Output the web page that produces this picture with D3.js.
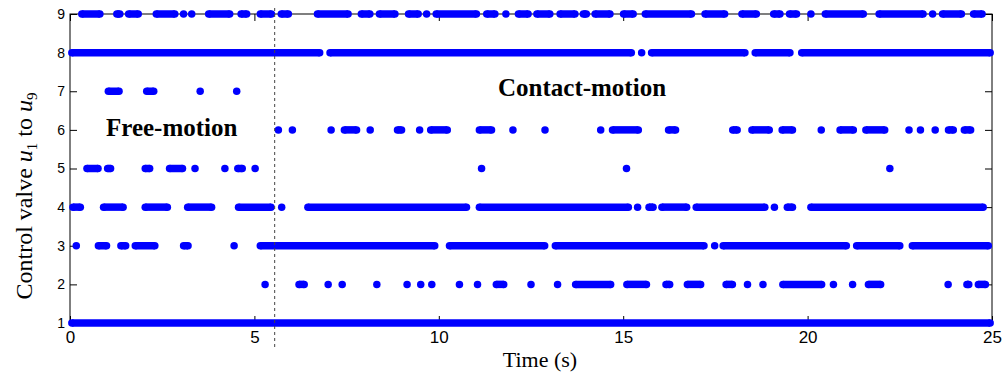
<!DOCTYPE html>
<html>
<head>
<meta charset="utf-8">
<script src="https://cdn.jsdelivr.net/npm/d3@7"></script>
<style>
  body { margin: 0; background: #fff; }
  svg { display: block; }
</style>
</head>
<body>
<div id="chart"></div>
<script>
// runs of "on" samples per valve, [start, end] in seconds (single dot when start == end)
const valve1 = [[0.05, 24.95]];
const valve2 = [[5.29, 5.29], [6.21, 6.35], [7.00, 7.00], [7.38, 7.38], [8.32, 8.32], [9.14, 9.14], [9.51, 9.51],
  [9.81, 9.81], [10.56, 10.56], [11.05, 11.05], [11.56, 11.76], [12.50, 12.50], [13.22, 13.22], [13.71, 14.66],
  [15.10, 15.63], [16.16, 16.26], [16.74, 17.10], [17.79, 17.96], [18.37, 18.37], [18.79, 18.79], [19.33, 20.38],
  [20.70, 20.70], [21.22, 21.22], [21.65, 21.98], [23.81, 23.81], [24.32, 24.37], [24.63, 24.82]];
const valve3 = [[0.17, 0.17], [0.77, 0.99], [1.38, 1.51], [1.77, 2.30], [3.08, 3.20], [4.45, 4.45], [5.16, 9.89],
  [10.29, 12.87], [13.16, 17.19], [17.48, 17.48], [17.71, 21.05], [21.33, 22.50], [22.84, 24.90]];
const valve4 = [[0.08, 0.28], [0.91, 1.44], [2.04, 2.64], [3.19, 3.84], [4.57, 5.45], [5.74, 5.74], [6.45, 10.75],
  [11.10, 15.14], [15.39, 15.39], [15.70, 15.81], [16.05, 16.72], [16.98, 18.84], [19.10, 19.10], [19.45, 19.59],
  [20.09, 24.76]];
const valve5 = [[0.46, 0.76], [1.02, 1.10], [2.04, 2.16], [2.70, 3.05], [3.39, 3.39], [4.20, 4.20], [4.55, 4.67],
  [5.02, 5.02], [11.16, 11.16], [15.09, 15.09], [22.23, 22.23]];
const valve6 = [[5.65, 5.65], [6.03, 6.03], [7.08, 7.08], [7.44, 7.77], [8.14, 8.14], [8.88, 8.99], [9.48, 9.48],
  [9.78, 10.23], [11.10, 11.43], [12.01, 12.01], [12.88, 12.88], [14.39, 14.39], [14.71, 15.41], [16.23, 16.42],
  [17.97, 18.09], [18.49, 18.96], [19.31, 19.59], [20.37, 20.37], [20.88, 21.24], [21.58, 22.09], [22.75, 22.75],
  [23.06, 23.06], [23.46, 23.46], [23.82, 23.95], [24.25, 24.42]];
const valve7 = [[1.04, 1.33], [2.08, 2.27], [3.53, 3.53], [4.52, 4.52]];
const valve8 = [[0.05, 6.77], [7.05, 15.22], [15.50, 15.50], [15.77, 18.30], [18.58, 19.52], [19.84, 24.95]];
const valve9 = [[0.32, 0.81], [1.27, 1.35], [1.59, 1.85], [2.34, 2.84], [3.08, 3.08], [3.30, 3.30], [3.76, 4.33],
  [4.64, 4.79], [5.16, 5.46], [5.73, 5.92], [6.71, 7.54], [7.90, 8.13], [8.39, 8.81], [9.18, 9.44], [9.67, 9.67],
  [9.93, 11.02], [11.30, 11.52], [11.82, 11.82], [12.16, 12.42], [12.66, 13.01], [13.29, 13.69], [13.92, 14.00],
  [14.24, 14.64], [15.01, 15.27], [15.60, 16.85], [17.22, 17.75], [18.22, 18.61], [19.08, 19.25], [19.51, 19.70],
  [20.09, 20.09], [20.48, 21.51], [21.94, 23.13], [23.39, 23.39], [23.66, 24.17], [24.50, 24.73]];

const valves = [valve1, valve2, valve3, valve4, valve5, valve6, valve7, valve8, valve9];
const xTicks = [0, 5, 10, 15, 20, 25];
const yTicks = [1, 2, 3, 4, 5, 6, 7, 8, 9];
const switchTime = 5.55; // free-motion -> contact-motion

const width = 1003, height = 376;
const margin = { top: 14, right: 11, bottom: 53, left: 70 };
const serif = "'Liberation Serif', 'Times New Roman', serif";
const sans = "'Liberation Sans', Arial, sans-serif";

const svg = d3.select("#chart").append("svg")
  .attr("width", width)
  .attr("height", height);

const x = d3.scaleLinear().domain([0, 25]).range([margin.left, width - margin.right]);
const y = d3.scaleLinear().domain([1, 9]).range([height - margin.bottom, margin.top]);

// box + inward ticks (MATLAB style)
const tick = 7;
svg.append("rect")
  .attr("x", x(0)).attr("y", y(9))
  .attr("width", x(25) - x(0)).attr("height", y(1) - y(9))
  .attr("fill", "none").attr("stroke", "#000");

const xAxis = svg.append("g")
  .attr("transform", `translate(0,${y(1)})`)
  .call(d3.axisBottom(x).tickValues(xTicks).tickSize(-tick).tickPadding(8));
svg.append("g")
  .attr("transform", `translate(0,${y(9)})`)
  .call(d3.axisTop(x).tickValues(xTicks).tickSize(-tick).tickFormat(""));
const yAxis = svg.append("g")
  .attr("transform", `translate(${x(0)},0)`)
  .call(d3.axisLeft(y).tickValues(yTicks).tickSize(-tick).tickPadding(5));
svg.append("g")
  .attr("transform", `translate(${x(25)},0)`)
  .call(d3.axisRight(y).tickValues(yTicks).tickSize(-tick).tickFormat(""));

svg.selectAll(".domain").remove();
svg.selectAll(".tick line").attr("stroke", "#000");
xAxis.selectAll("text").style("font", `17px ${sans}`).attr("fill", "#000");
yAxis.selectAll("text").style("font", `14px ${sans}`).attr("fill", "#000");

// dots
const r = 3.75;
const rows = svg.append("g")
  .selectAll("g")
  .data(valves)
  .join("g")
  .attr("fill", "#0000ff")
  .attr("stroke", "#0000ff");

rows.each(function (runs, i) {
  const g = d3.select(this);
  const v = i + 1;
  g.selectAll("line")
    .data(runs.filter(d => d[1] > d[0]))
    .join("line")
    .attr("x1", d => x(d[0])).attr("x2", d => x(d[1]))
    .attr("y1", y(v)).attr("y2", y(v))
    .attr("stroke-width", 2 * r);
  g.selectAll("circle")
    .data(runs.flatMap(d => d[1] > d[0] ? [d[0], d[1]] : [d[0]]))
    .join("circle")
    .attr("cx", d => x(d)).attr("cy", y(v))
    .attr("r", r).attr("stroke", "none");
});

// phase split
svg.append("line")
  .attr("x1", x(switchTime)).attr("x2", x(switchTime))
  .attr("y1", y(9) - 6).attr("y2", y(1) + 26)
  .attr("stroke", "#444").attr("stroke-dasharray", "3,3");

svg.append("text")
  .attr("x", 106).attr("y", 136)
  .style("font", `bold 25px ${serif}`)
  .text("Free-motion");
svg.append("text")
  .attr("x", 498).attr("y", 96)
  .style("font", `bold 25px ${serif}`)
  .text("Contact-motion");

// axis titles
svg.append("text")
  .attr("x", 540).attr("y", 367)
  .attr("text-anchor", "middle")
  .style("font", `22px ${serif}`)
  .text("Time (s)");

const yl = svg.append("text")
  .attr("transform", "translate(32,196) rotate(-90)")
  .attr("text-anchor", "middle")
  .style("font", `24px ${serif}`);
yl.append("tspan").text("Control valve ");
yl.append("tspan").style("font-style", "italic").text("u");
yl.append("tspan").attr("dy", 5).style("font-size", "15px").text("1");
yl.append("tspan").attr("dy", -5).text(" to ");
yl.append("tspan").style("font-style", "italic").text("u");
yl.append("tspan").attr("dy", 5).style("font-size", "15px").text("9");
</script>
</body>
</html>
